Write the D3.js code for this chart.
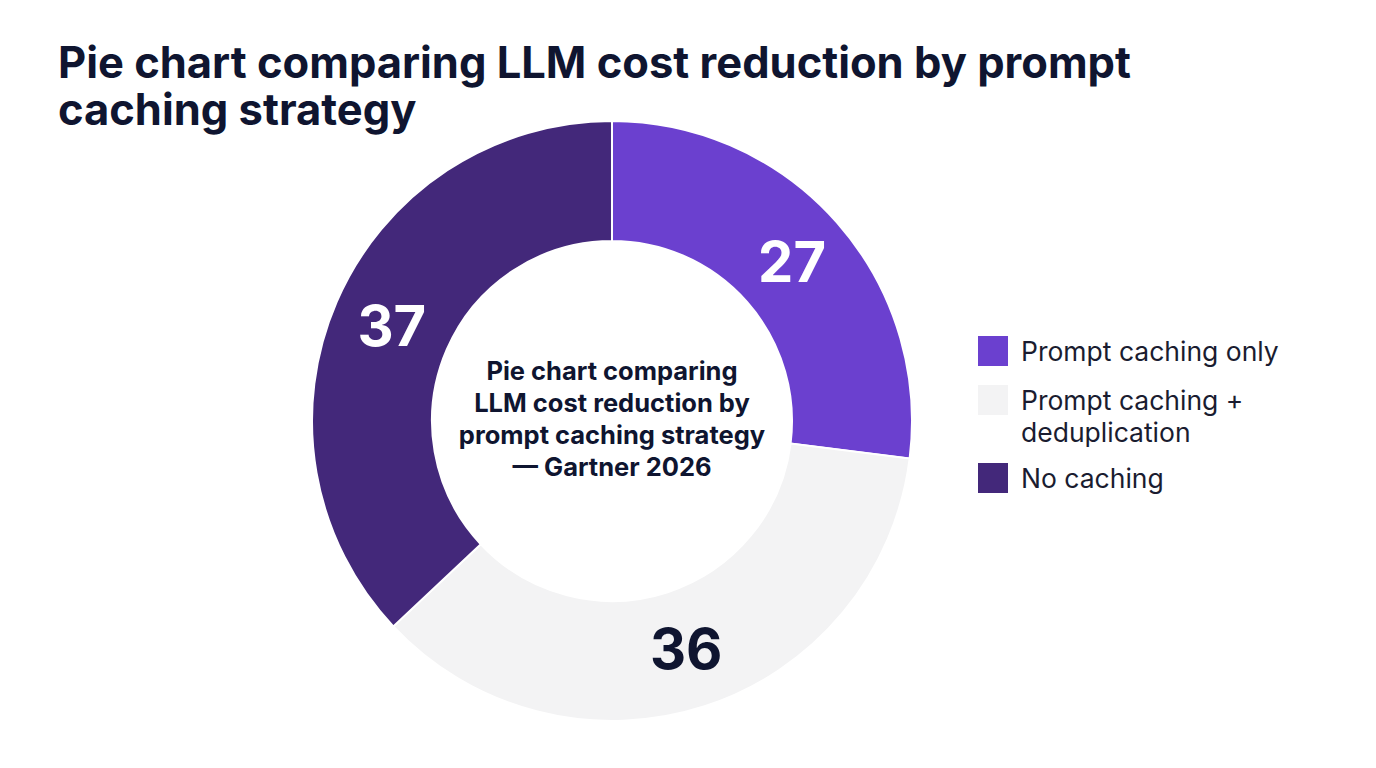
<!DOCTYPE html>
<html>
<head>
<meta charset="utf-8">
<script src="https://cdn.jsdelivr.net/npm/d3@7"></script>
<style>
  body { margin: 0; background: #fff; }
  svg { display: block; font-family: Inter, "Noto Sans", sans-serif; }
  .title { font-size: 43.5px; font-weight: 700; fill: #0f1530; }
  .center-label { font-size: 25.5px; font-weight: 700; fill: #0f1530; }
  .slice-label { font-size: 56px; font-weight: 700; }
  .legend-text { font-size: 26.5px; fill: #1a1c30; }
</style>
</head>
<body>
<svg id="chart"></svg>
<script>
const categories = ['Prompt caching only', 'Prompt caching + deduplication', 'No caching'];
const values = [27, 36, 37];
const colors = ['#6b40cf', '#f3f3f4', '#43287a'];
const labelColors = ['#ffffff', '#0f1530', '#ffffff'];
const legendLines = [['Prompt caching only'], ['Prompt caching +', 'deduplication'], ['No caching']];
const titleLines = ['Pie chart comparing LLM cost reduction by prompt', 'caching strategy'];
const centerLines = ['Pie chart comparing', 'LLM cost reduction by', 'prompt caching strategy', '\u2014 Gartner 2026'];

const totalW = 1376, totalH = 768;
const cx = 612, cy = 421, outerR = 300, innerR = 180;

const svg = d3.select('#chart').attr('width', totalW).attr('height', totalH);

svg.selectAll('.title').data(titleLines).enter().append('text')
  .attr('class', 'title').attr('x', 58).attr('y', (d, i) => 78 + i * 47).text((d) => d);

const data = categories.map((c, i) => ({ name: c, value: values[i], i }));
const pie = d3.pie().sort(null).value((d) => d.value);
const arc = d3.arc().innerRadius(innerR).outerRadius(outerR);
const labelArc = d3.arc().innerRadius(240).outerRadius(240);

const g = svg.append('g').attr('transform', `translate(${cx},${cy})`);
const arcs = pie(data);

g.selectAll('path').data(arcs).enter().append('path')
  .attr('d', arc).attr('fill', (d) => colors[d.data.i])
  .attr('stroke', '#ffffff').attr('stroke-width', 2);

g.selectAll('.slice-label').data(arcs).enter().append('text')
  .attr('class', 'slice-label')
  .attr('transform', (d) => `translate(${labelArc.centroid(d)})`)
  .attr('text-anchor', 'middle').attr('dy', '0.36em')
  .attr('fill', (d) => labelColors[d.data.i])
  .text((d) => d.data.value);

g.selectAll('.center-label').data(centerLines).enter().append('text')
  .attr('class', 'center-label').attr('text-anchor', 'middle')
  .attr('x', 0).attr('y', (d, i) => -41 + i * 32).text((d) => d);

const legend = svg.append('g').attr('transform', 'translate(978,336)');
const legendY = [0, 49, 127];
legendLines.forEach((lines, i) => {
  const row = legend.append('g').attr('transform', `translate(0,${legendY[i]})`);
  row.append('rect').attr('width', 30).attr('height', 30).attr('fill', colors[i]);
  lines.forEach((t, j) => {
    row.append('text').attr('class', 'legend-text')
      .attr('x', 43).attr('y', 25 + j * 32).text(t);
  });
});
</script>
</body>
</html>
